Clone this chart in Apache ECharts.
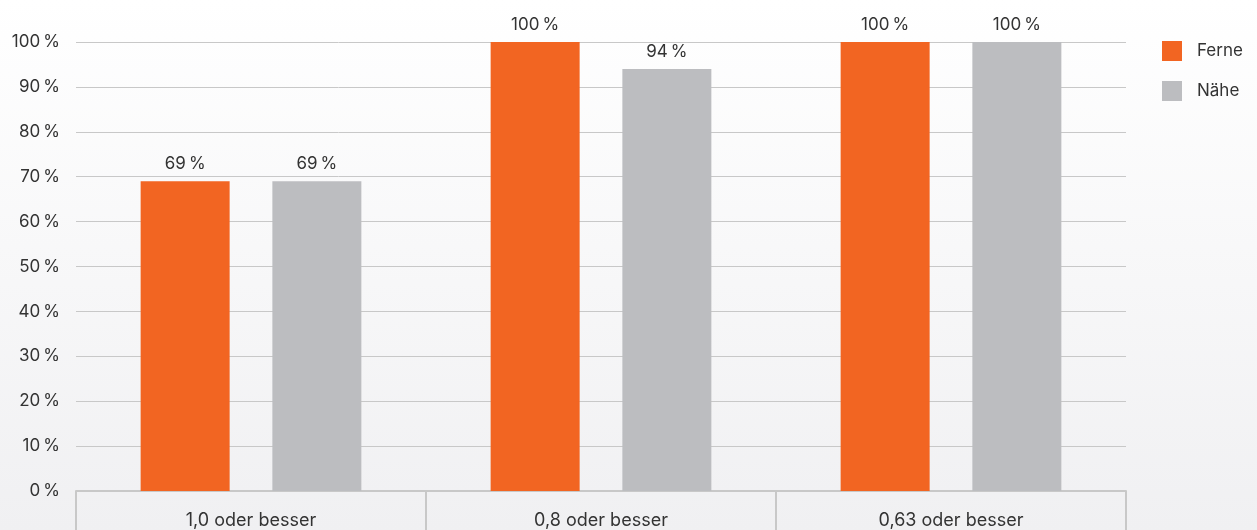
<!DOCTYPE html>
<html><head><meta charset="utf-8">
<script src="https://cdn.jsdelivr.net/npm/echarts@6/dist/echarts.min.js"></script>
<style>html,body{margin:0;padding:0;}#c{width:1257px;height:530px;background:linear-gradient(#ffffff,#f0f0f2);}</style>
</head><body><div id="c"></div>
<script>
const categories = ['1,0 oder besser', '0,8 oder besser', '0,63 oder besser'];
const ferne = [69, 100, 100];
const naehe = [69, 94, 100];
const seriesNames = ['Ferne', 'Nähe'];
const chart = echarts.init(document.getElementById('c'));
const font = 'Inter, "Noto Sans", sans-serif';
const fs = 18;
const lbl = {show: true, position: 'top', distance: 9, color: '#333', fontSize: 17, fontFamily: font, formatter: p => p.value + '\u2009%'};
chart.setOption({
  animation: false,
  grid: {left: 76, right: 131, top: 42, bottom: 37},
  legend: {orient: 'vertical', left: 1157, top: 36, itemWidth: 20, itemHeight: 20, itemGap: 20, icon: 'rect',
    textStyle: {fontSize: 17, color: '#333', fontFamily: font, padding: [0, 0, 0, 10]}},
  xAxis: {type: 'category', data: categories,
    axisLine: {lineStyle: {color: '#c8c8c8', width: 2}},
    axisTick: {show: true, length: 40, lineStyle: {color: '#c8c8c8', width: 2}},
    axisLabel: {fontSize: fs, color: '#333', fontFamily: font, margin: 21}},
  yAxis: {type: 'value', min: 0, max: 100, interval: 10,
    axisLine: {show: false}, axisTick: {show: false},
    splitLine: {lineStyle: {color: '#c8c8c8', width: 1}},
    axisLabel: {fontSize: 17, color: '#333', fontFamily: font, margin: 16, formatter: v => v + '\u2009%'}},
  series: [
    {name: seriesNames[0], type: 'bar', data: ferne, barWidth: 89, barGap: '48%', itemStyle: {color: '#F26522'}, label: lbl},
    {name: seriesNames[1], type: 'bar', data: naehe, barWidth: 89, itemStyle: {color: '#BCBDC0'}, label: lbl}
  ]
});
</script></body></html>
